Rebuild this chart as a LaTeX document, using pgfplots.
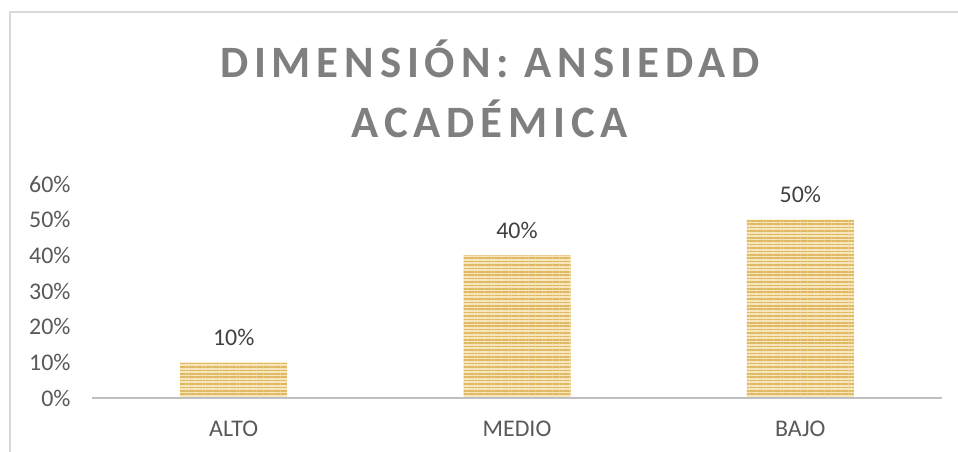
\documentclass[border=0pt]{standalone}
\usepackage{pgfplots}
\pgfplotsset{compat=1.18}
\usepackage{fontspec}
\setmainfont{Carlito}
\newfontfamily\titlefont{Carlito Bold}[LetterSpace=13]
\usetikzlibrary{patterns.meta}
\definecolor{barlight}{HTML}{F7E6BB}
\definecolor{bardark}{HTML}{E1B862}
\definecolor{ticktext}{HTML}{595959}
\definecolor{labtext}{HTML}{404040}
\definecolor{titletext}{HTML}{7F7F7F}
\definecolor{axisgray}{HTML}{BFBFBF}
\definecolor{framegray}{HTML}{D9D9D9}
\begin{document}
\begin{tikzpicture}[x=1bp,y=1bp]
\path[use as bounding box] (0,0) rectangle (958,452);
\fill[white] (0,0) rectangle (958,452);
\draw[framegray, line width=1.5bp] (10,0) -- (10,440) -- (958,440);
\node[anchor=base, text=titletext, inner sep=0pt] at (490,374) {\titlefont\fontsize{45}{45}\selectfont DIMENSIÓN: ANSIEDAD};
\node[anchor=base, text=titletext, inner sep=0pt] at (490,314) {\titlefont\fontsize{45}{45}\selectfont ACADÉMICA};
\begin{axis}[
  at={(92bp,54bp)}, anchor=south west,
  scale only axis, width=850bp, height=214bp,
  xmin=-0.5, xmax=2.5, ymin=0, ymax=0.6,
  ybar, bar width=107bp,
  axis line style={draw=none},
  major tick length=0pt,
  xtick={0,1,2}, xticklabels={ALTO,MEDIO,BAJO},
  ytick={0,0.1,0.2,0.3,0.4,0.5,0.6},
  yticklabels={0\%,10\%,20\%,30\%,40\%,50\%,60\%},
  ticklabel style={font=\fontsize{24}{24}\selectfont, text=ticktext},
  yticklabel style={xshift=-18bp},
  xticklabel style={yshift=-19bp},
  point meta=explicit symbolic,
  nodes near coords,
  nodes near coords style={anchor=center, yshift=25bp, font=\fontsize{24}{24}\selectfont, text=labtext},
  clip=false,
]
\addplot[draw=none, fill=barlight, postaction={pattern={Lines[angle=0, distance=3.4bp, line width=1.7bp]}, pattern color=bardark}]
  coordinates {(0,0.1)[10\%] (1,0.4)[40\%] (2,0.5)[50\%]};
\draw[axisgray, line width=2.5bp] (axis cs:-0.5,0) -- (axis cs:2.5,0);
\end{axis}
\end{tikzpicture}
\end{document}
